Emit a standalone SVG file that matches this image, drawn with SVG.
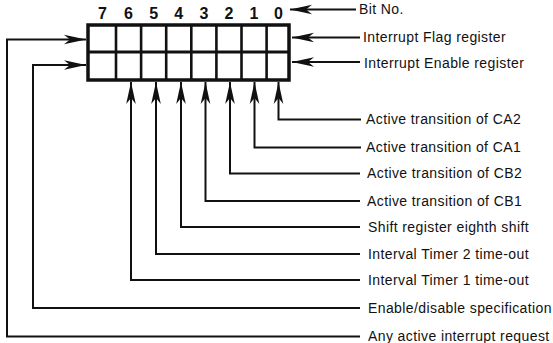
<svg xmlns="http://www.w3.org/2000/svg" width="553" height="343" viewBox="0 0 553 343">
<style>
.lbl{font-family:"Liberation Sans",Arial,Helvetica,sans-serif;font-size:14px;letter-spacing:0.4px;fill:#111}
.dig{font-family:"Liberation Sans",Arial,Helvetica,sans-serif;font-size:16px;font-weight:bold;fill:#111;text-anchor:middle}
.conn{fill:none;stroke:#111;stroke-width:2;stroke-linejoin:miter}
.box{fill:#fff;stroke:#111;stroke-width:3.5}
.div{stroke:#111;stroke-width:2.6}
</style>
<defs>
<marker id="ah" viewBox="-23 -6 24 12" refX="0" refY="0" markerWidth="24" markerHeight="12" markerUnits="userSpaceOnUse" orient="auto">
<path d="M0,0 L-22,-4.8 L-16,0 L-22,4.8 Z" fill="#111"/>
</marker>
</defs>
<rect width="553" height="343" fill="#fff"/>

<g id="register">
<rect class="box" x="88" y="25" width="201" height="55"/>
<line class="div" x1="88" y1="52" x2="289" y2="52" style="stroke-width:3.2"/>
<line class="div" x1="116" y1="25" x2="116" y2="80"/>
<line class="div" x1="141.1" y1="25" x2="141.1" y2="80"/>
<line class="div" x1="166.2" y1="25" x2="166.2" y2="80"/>
<line class="div" x1="191.3" y1="25" x2="191.3" y2="80"/>
<line class="div" x1="216.4" y1="25" x2="216.4" y2="80"/>
<line class="div" x1="241.5" y1="25" x2="241.5" y2="80"/>
<line class="div" x1="266.6" y1="25" x2="266.6" y2="80"/>
</g>

<g id="bit-numbers">
<text class="dig" x="102.5" y="18.5">7</text>
<text class="dig" x="128.5" y="18.5">6</text>
<text class="dig" x="153.6" y="18.5">5</text>
<text class="dig" x="178.7" y="18.5">4</text>
<text class="dig" x="203.9" y="18.5">3</text>
<text class="dig" x="229" y="18.5">2</text>
<text class="dig" x="254" y="18.5">1</text>
<text class="dig" x="278.5" y="18.5">0</text>
</g>

<g id="label-bitno"><text class="lbl" x="359" y="14">Bit No.</text></g>
<g id="label-flag"><text class="lbl" x="363" y="41.5">Interrupt Flag register</text></g>
<g id="label-enable"><text class="lbl" x="364" y="67.5">Interrupt Enable register</text></g>
<g id="label-ca2"><text class="lbl" x="366" y="124">Active transition of CA2</text></g>
<g id="label-ca1"><text class="lbl" x="366" y="152">Active transition of CA1</text></g>
<g id="label-cb2"><text class="lbl" x="367" y="178">Active transition of CB2</text></g>
<g id="label-cb1"><text class="lbl" x="367" y="205.5">Active transition of CB1</text></g>
<g id="label-shift"><text class="lbl" x="368" y="231.5">Shift register eighth shift</text></g>
<g id="label-timer2"><text class="lbl" x="368" y="258.5">Interval Timer 2 time-out</text></g>
<g id="label-timer1"><text class="lbl" x="368" y="284.5">Interval Timer 1 time-out</text></g>
<g id="label-enadis"><text class="lbl" x="368" y="312.5">Enable/disable specification</text></g>
<g id="label-any"><text class="lbl" x="368" y="341">Any active interrupt request</text></g>

<g id="connectors">
<path class="conn" d="M356,9.5 H290" marker-end="url(#ah)"/>
<path class="conn" d="M360,37.5 H292" marker-end="url(#ah)"/>
<path class="conn" d="M360,62 H292" marker-end="url(#ah)"/>
<path class="conn" d="M361,119.5 H278.5 V82" marker-end="url(#ah)"/>
<path class="conn" d="M361,147.5 H254.5 V82" marker-end="url(#ah)"/>
<path class="conn" d="M360,173.5 H230 V82" marker-end="url(#ah)"/>
<path class="conn" d="M360,201 H205.5 V82" marker-end="url(#ah)"/>
<path class="conn" d="M360,227 H181 V82" marker-end="url(#ah)"/>
<path class="conn" d="M360,254 H156 V82" marker-end="url(#ah)"/>
<path class="conn" d="M360,280 H131 V82" marker-end="url(#ah)"/>
<path class="conn" d="M360,308 H33 V65 H86" marker-end="url(#ah)"/>
<path class="conn" d="M360,336.5 H7 V39.5 H86" marker-end="url(#ah)"/>
</g>
</svg>
